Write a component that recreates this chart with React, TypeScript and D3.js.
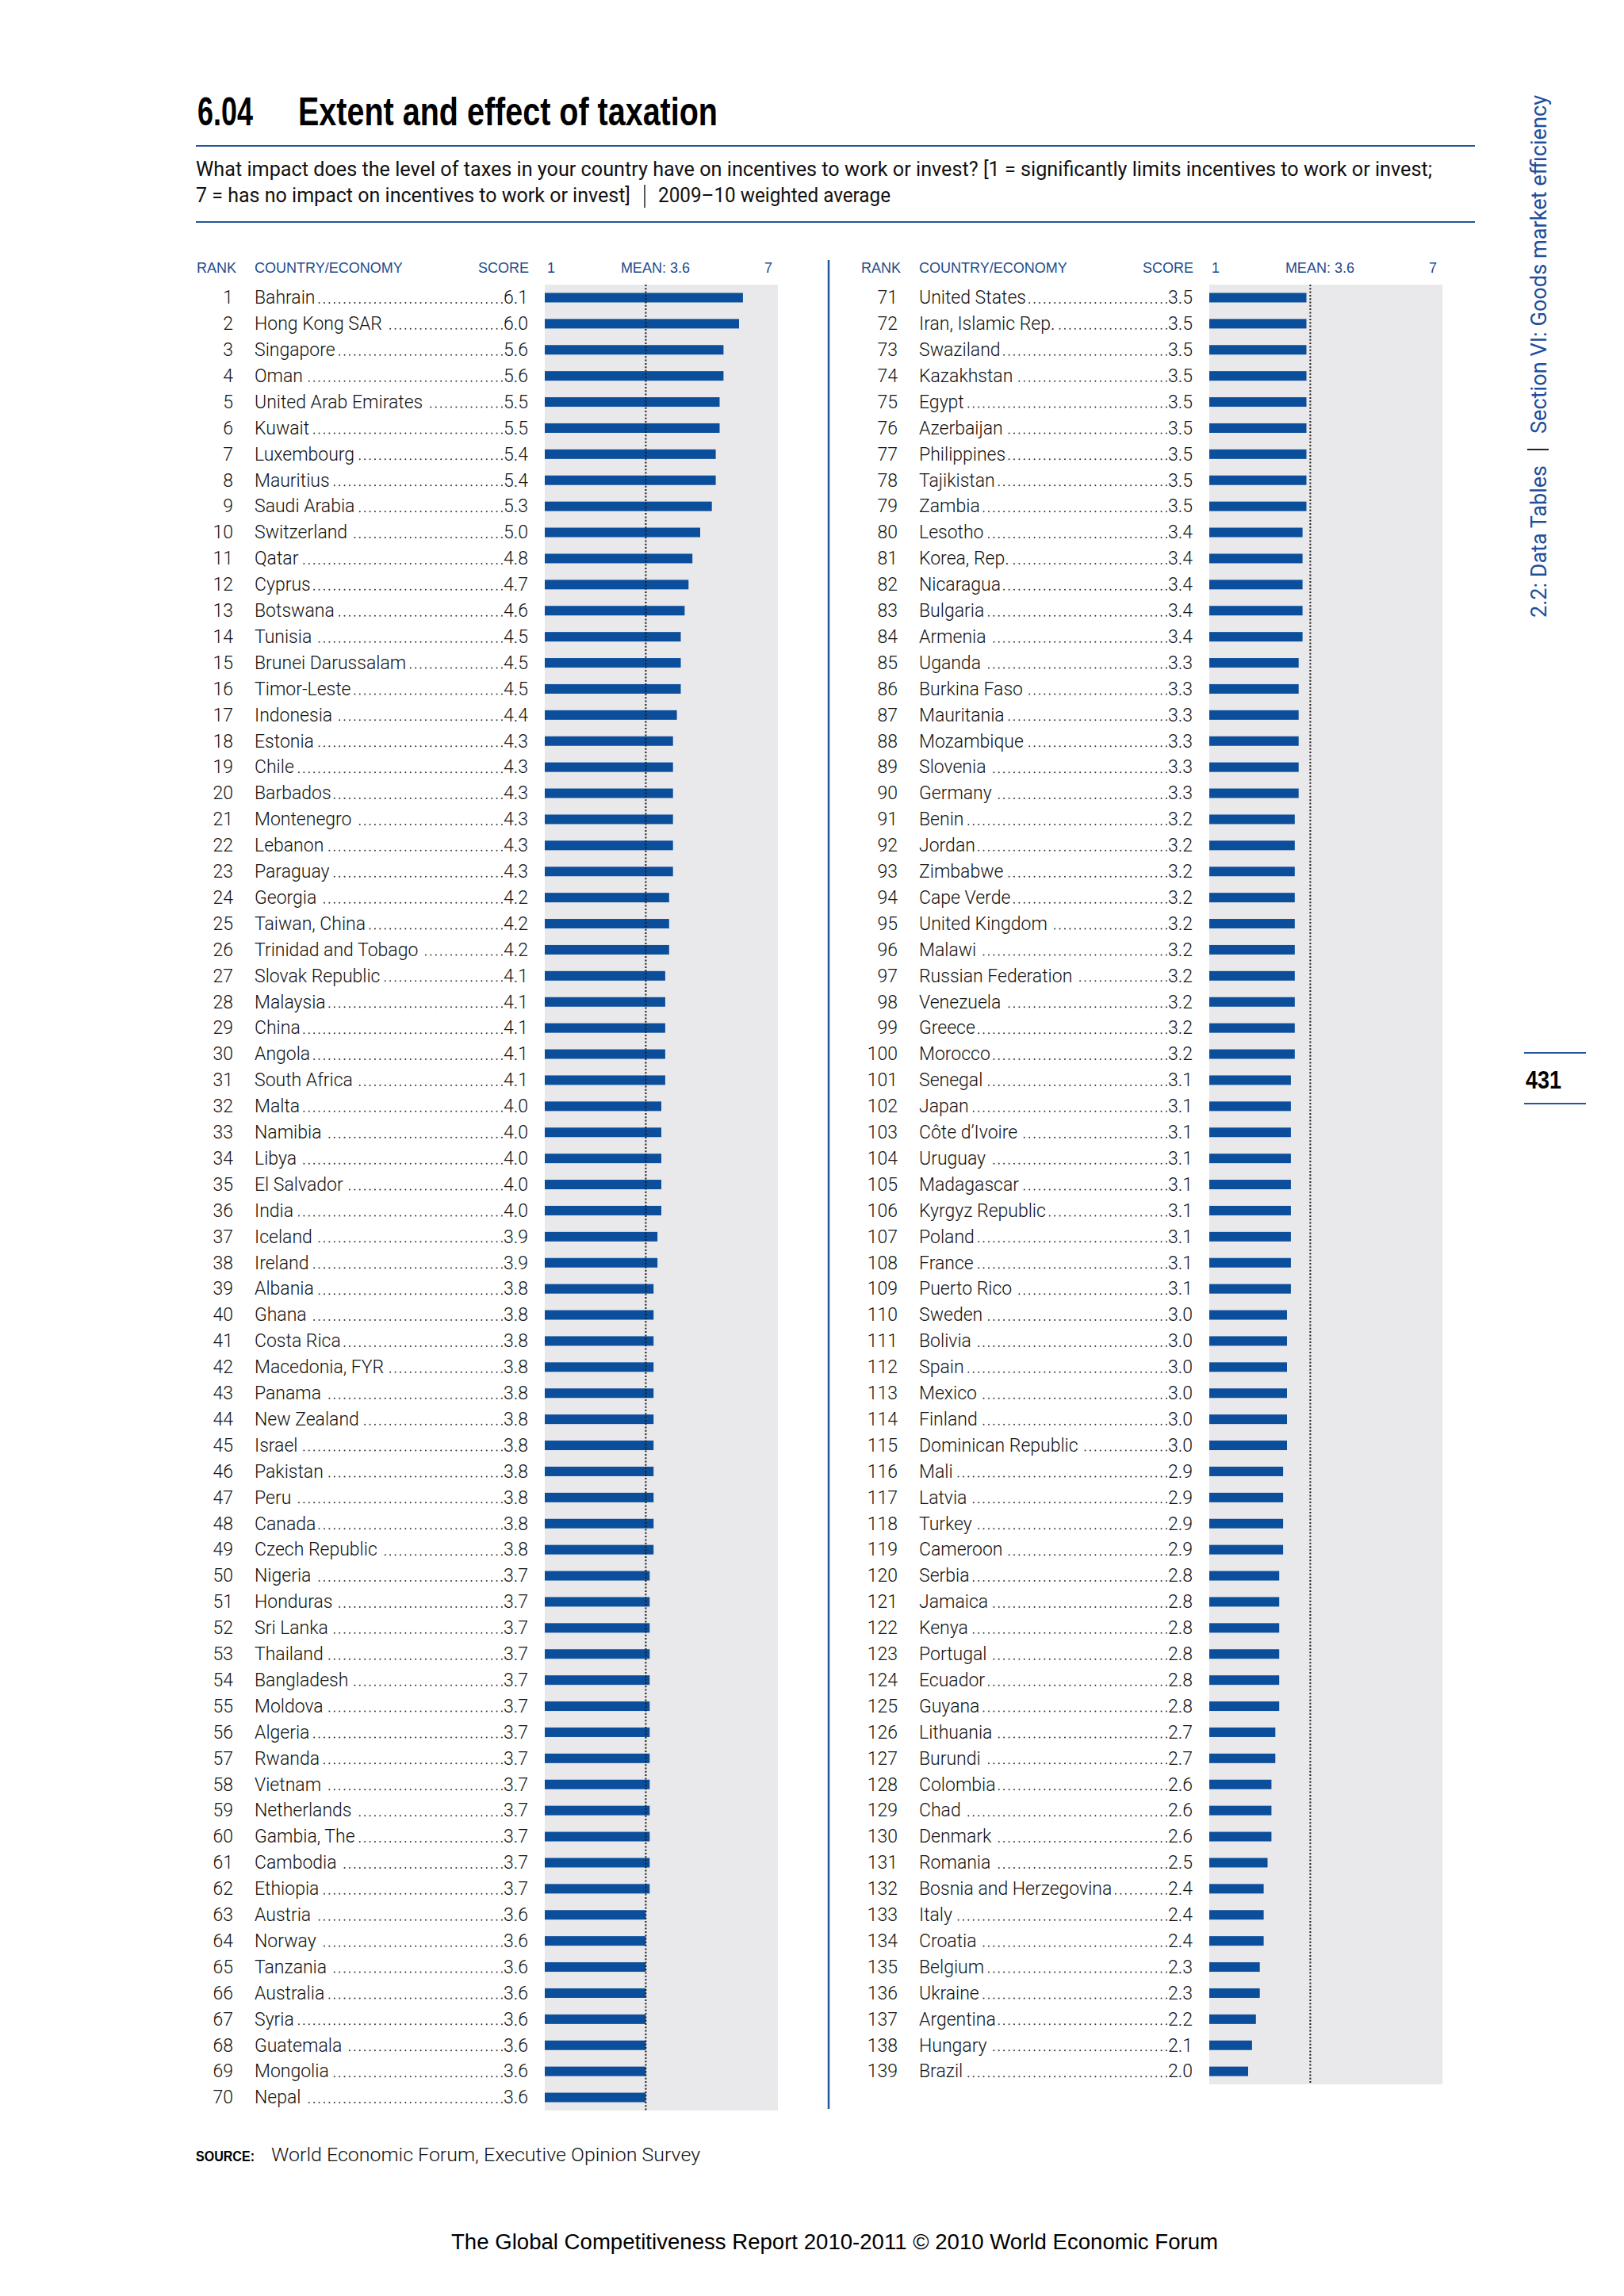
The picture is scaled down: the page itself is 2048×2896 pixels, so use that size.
import React, { useEffect, useRef } from "react";
import * as d3 from "d3";

// ---------- DATA ----------
const leftCountries = [
  "Bahrain", "Hong Kong SAR", "Singapore", "Oman", "United Arab Emirates", "Kuwait", "Luxembourg",
  "Mauritius", "Saudi Arabia", "Switzerland", "Qatar", "Cyprus", "Botswana", "Tunisia",
  "Brunei Darussalam", "Timor-Leste", "Indonesia", "Estonia", "Chile", "Barbados", "Montenegro",
  "Lebanon", "Paraguay", "Georgia", "Taiwan, China", "Trinidad and Tobago", "Slovak Republic",
  "Malaysia", "China", "Angola", "South Africa", "Malta", "Namibia", "Libya", "El Salvador",
  "India", "Iceland", "Ireland", "Albania", "Ghana", "Costa Rica", "Macedonia, FYR", "Panama",
  "New Zealand", "Israel", "Pakistan", "Peru", "Canada", "Czech Republic", "Nigeria", "Honduras",
  "Sri Lanka", "Thailand", "Bangladesh", "Moldova", "Algeria", "Rwanda", "Vietnam", "Netherlands",
  "Gambia, The", "Cambodia", "Ethiopia", "Austria", "Norway", "Tanzania", "Australia", "Syria",
  "Guatemala", "Mongolia", "Nepal",
];
const leftScores = [
  6.1, 6.0, 5.6, 5.6, 5.5, 5.5, 5.4, 5.4, 5.3, 5.0, 4.8, 4.7, 4.6, 4.5, 4.5, 4.5, 4.4, 4.3, 4.3, 4.3,
  4.3, 4.3, 4.3, 4.2, 4.2, 4.2, 4.1, 4.1, 4.1, 4.1, 4.1, 4.0, 4.0, 4.0, 4.0, 4.0, 3.9, 3.9, 3.8, 3.8,
  3.8, 3.8, 3.8, 3.8, 3.8, 3.8, 3.8, 3.8, 3.8, 3.7, 3.7, 3.7, 3.7, 3.7, 3.7, 3.7, 3.7, 3.7, 3.7, 3.7,
  3.7, 3.7, 3.6, 3.6, 3.6, 3.6, 3.6, 3.6, 3.6, 3.6,
];
const rightCountries = [
  "United States", "Iran, Islamic Rep.", "Swaziland", "Kazakhstan", "Egypt", "Azerbaijan",
  "Philippines", "Tajikistan", "Zambia", "Lesotho", "Korea, Rep.", "Nicaragua", "Bulgaria",
  "Armenia", "Uganda", "Burkina Faso", "Mauritania", "Mozambique", "Slovenia", "Germany", "Benin",
  "Jordan", "Zimbabwe", "Cape Verde", "United Kingdom", "Malawi", "Russian Federation", "Venezuela",
  "Greece", "Morocco", "Senegal", "Japan", "Côte d’Ivoire", "Uruguay", "Madagascar",
  "Kyrgyz Republic", "Poland", "France", "Puerto Rico", "Sweden", "Bolivia", "Spain", "Mexico",
  "Finland", "Dominican Republic", "Mali", "Latvia", "Turkey", "Cameroon", "Serbia", "Jamaica",
  "Kenya", "Portugal", "Ecuador", "Guyana", "Lithuania", "Burundi", "Colombia", "Chad", "Denmark",
  "Romania", "Bosnia and Herzegovina", "Italy", "Croatia", "Belgium", "Ukraine", "Argentina",
  "Hungary", "Brazil",
];
const rightScores = [
  3.5, 3.5, 3.5, 3.5, 3.5, 3.5, 3.5, 3.5, 3.5, 3.4, 3.4, 3.4, 3.4, 3.4, 3.3, 3.3, 3.3, 3.3, 3.3, 3.3,
  3.2, 3.2, 3.2, 3.2, 3.2, 3.2, 3.2, 3.2, 3.2, 3.2, 3.1, 3.1, 3.1, 3.1, 3.1, 3.1, 3.1, 3.1, 3.1, 3.0,
  3.0, 3.0, 3.0, 3.0, 3.0, 2.9, 2.9, 2.9, 2.9, 2.8, 2.8, 2.8, 2.8, 2.8, 2.8, 2.7, 2.7, 2.6, 2.6, 2.6,
  2.5, 2.4, 2.4, 2.4, 2.3, 2.3, 2.2, 2.1, 2.0,
];
const scaleDomain = [1, 7];
const meanValue = 3.6;
const headerLabels = ["RANK", "COUNTRY/ECONOMY", "SCORE"];

// ---------- STYLE ----------
const BLUE = "#0b4e9b";
const RULE = "#24569c";
const HEAD = "#1d4c8e";
const GRAY = "#e9e9eb";
const ROW_FONT = "Roboto, 'Liberation Sans', Arial, sans-serif";
const SANS = "'Liberation Sans', Arial, Helvetica, sans-serif";
const ROW_TOP = 359;
const ROW_STEP = 32.9;
const BAR_H = 12;

export default function App() {
  const ref = useRef<SVGSVGElement>(null);

  useEffect(() => {
    const svg = d3.select(ref.current);
    svg.selectAll("*").remove();

    // Title
    const t = svg.append("g").attr("font-family", SANS).attr("fill", "#000");
    t.append("text").attr("x", 249).attr("y", 158).attr("font-size", 50).attr("font-weight", 700)
      .attr("textLength", 70).attr("lengthAdjust", "spacingAndGlyphs").text("6.04");
    t.append("text").attr("x", 376).attr("y", 158).attr("font-size", 50).attr("font-weight", 700)
      .attr("textLength", 529).attr("lengthAdjust", "spacingAndGlyphs").text("Extent and effect of taxation");
    svg.append("line").attr("x1", 247).attr("x2", 1860).attr("y1", 184).attr("y2", 184)
      .attr("stroke", RULE).attr("stroke-width", 2.2);
    const sub = svg.append("g").attr("font-family", ROW_FONT).attr("font-size", 25).attr("fill", "#111");
    sub.append("text").attr("x", 247).attr("y", 222).attr("textLength", 1559).attr("lengthAdjust", "spacingAndGlyphs")
      .text("What impact does the level of taxes in your country have on incentives to work or invest? [1 = significantly limits incentives to work or invest;");
    sub.append("text").attr("x", 247).attr("y", 255).attr("textLength", 548).attr("lengthAdjust", "spacingAndGlyphs")
      .text("7 = has no impact on incentives to work or invest]");
    sub.append("text").attr("x", 830).attr("y", 255).attr("textLength", 293).attr("lengthAdjust", "spacingAndGlyphs")
      .text("2009–10 weighted average");
    svg.append("line").attr("x1", 813).attr("x2", 813).attr("y1", 233).attr("y2", 262)
      .attr("stroke", "#222").attr("stroke-width", 1.5);
    svg.append("line").attr("x1", 247).attr("x2", 1860).attr("y1", 280).attr("y2", 280)
      .attr("stroke", RULE).attr("stroke-width", 2.2);

    // Divider
    svg.append("line").attr("x1", 1045).attr("x2", 1045).attr("y1", 328).attr("y2", 2660)
      .attr("stroke", RULE).attr("stroke-width", 2.5);

    const panels = [
      { dx: 0, firstRank: 1, names: leftCountries, scores: leftScores },
      { dx: 838, firstRank: 71, names: rightCountries, scores: rightScores },
    ];
    const fmt = d3.format(".1f");

    panels.forEach((p) => {
      const n = p.names.length;
      const y = d3.scaleBand<number>().domain(d3.range(n)).range([ROW_TOP, ROW_TOP + n * ROW_STEP]);
      const x = d3.scaleLinear().domain(scaleDomain).range([687 + p.dx, 981 + p.dx]);
      const g = svg.append("g");
      const cy = (i: number) => (y(i) as number) + y.bandwidth() / 2;

      // header
      const h = g.append("g").attr("font-family", SANS).attr("font-size", 18).attr("fill", HEAD);
      h.append("text").attr("x", 248 + p.dx).attr("y", 344).text(headerLabels[0]);
      h.append("text").attr("x", 321 + p.dx).attr("y", 344).text(headerLabels[1]);
      h.append("text").attr("x", 667 + p.dx).attr("y", 344).attr("text-anchor", "end").text(headerLabels[2]);
      h.append("text").attr("x", x(scaleDomain[0]) + 3).attr("y", 344).text(String(scaleDomain[0]));
      h.append("text").attr("x", x(meanValue) + 12).attr("y", 344).attr("text-anchor", "middle").text(`MEAN: ${fmt(meanValue)}`);
      h.append("text").attr("x", x(scaleDomain[1]) - 7).attr("y", 344).attr("text-anchor", "end").text(String(scaleDomain[1]));

      // background
      g.append("rect").attr("x", x(scaleDomain[0])).attr("y", ROW_TOP)
        .attr("width", x(scaleDomain[1]) - x(scaleDomain[0])).attr("height", n * ROW_STEP).attr("fill", GRAY);

      // bars
      g.append("g").selectAll("rect").data(p.scores).join("rect")
        .attr("x", x(scaleDomain[0]))
        .attr("y", (_d, i) => cy(i) - BAR_H / 2)
        .attr("width", (d) => x(d) - x(scaleDomain[0]))
        .attr("height", BAR_H)
        .attr("fill", BLUE);

      // mean line
      g.append("line").attr("x1", x(meanValue)).attr("x2", x(meanValue))
        .attr("y1", ROW_TOP).attr("y2", ROW_TOP + n * ROW_STEP)
        .attr("stroke", "#1a1a1a").attr("stroke-width", 2).attr("stroke-dasharray", "2,2.3");

      // rows
      const rows = g.append("g").attr("font-family", ROW_FONT).attr("font-weight", 300)
        .attr("font-size", 23).attr("fill", "#111");
      p.names.forEach((name, i) => {
        const base = cy(i) + 7.8;
        rows.append("text").attr("x", 294 + p.dx).attr("y", base).attr("text-anchor", "end")
          .text(String(p.firstRank + i));
        const nt = rows.append("text").attr("x", 321 + p.dx).attr("y", base).text(name);
        const st = rows.append("text").attr("x", 666 + p.dx).attr("y", base).attr("text-anchor", "end")
          .text(fmt(p.scores[i]));
        const nw = (nt.node() as SVGTextElement).getComputedTextLength();
        const sw = (st.node() as SVGTextElement).getComputedTextLength();
        const xStart = 321 + p.dx + nw + 4;
        const xEnd = 666 + p.dx - sw - 2;
        if (xEnd > xStart) {
          rows.append("line").attr("x1", xEnd).attr("x2", xStart)
            .attr("y1", base - 1.3).attr("y2", base - 1.3)
            .attr("stroke", "#333").attr("stroke-width", 2)
            .attr("stroke-linecap", "round").attr("stroke-dasharray", "0,6.4");
        }
      });
    });

    // Side vertical label
    const side = svg.append("g").attr("font-family", ROW_FONT).attr("font-size", 28).attr("fill", "#1f4e9a");
    side.append("text").attr("transform", "translate(1950,779) rotate(-90)")
      .attr("textLength", 192).attr("lengthAdjust", "spacingAndGlyphs").text("2.2: Data Tables");
    side.append("text").attr("transform", "translate(1950,547) rotate(-90)")
      .attr("textLength", 427).attr("lengthAdjust", "spacingAndGlyphs").text("Section VI: Goods market efficiency");
    svg.append("line").attr("x1", 1926).attr("x2", 1953).attr("y1", 567).attr("y2", 567)
      .attr("stroke", "#222").attr("stroke-width", 2);

    // Page number
    svg.append("line").attr("x1", 1922).attr("x2", 2000).attr("y1", 1328).attr("y2", 1328)
      .attr("stroke", RULE).attr("stroke-width", 2);
    svg.append("line").attr("x1", 1922).attr("x2", 2000).attr("y1", 1392).attr("y2", 1392)
      .attr("stroke", RULE).attr("stroke-width", 2);
    svg.append("text").attr("x", 1924).attr("y", 1373).attr("font-family", SANS).attr("font-weight", 700)
      .attr("font-size", 32).attr("textLength", 45).attr("lengthAdjust", "spacingAndGlyphs").text("431");

    // Source
    svg.append("text").attr("x", 247).attr("y", 2726).attr("font-family", SANS).attr("font-weight", 700)
      .attr("font-size", 19).attr("textLength", 74).attr("lengthAdjust", "spacingAndGlyphs").text("SOURCE:");
    svg.append("text").attr("x", 342).attr("y", 2726).attr("font-family", ROW_FONT).attr("font-weight", 300)
      .attr("font-size", 23).attr("fill", "#111").attr("textLength", 541).attr("lengthAdjust", "spacingAndGlyphs")
      .text("World Economic Forum, Executive Opinion Survey");

    // Footer
    svg.append("text").attr("x", 569).attr("y", 2837).attr("font-family", SANS)
      .attr("font-size", 27).attr("fill", "#000").attr("textLength", 967).attr("lengthAdjust", "spacingAndGlyphs")
      .text("The Global Competitiveness Report 2010-2011 © 2010 World Economic Forum");
  }, []);

  return (
    <svg
      ref={ref}
      width={2048}
      height={2896}
      style={{ position: "absolute", left: 0, top: 0, background: "#fff", display: "block" }}
    />
  );
}
